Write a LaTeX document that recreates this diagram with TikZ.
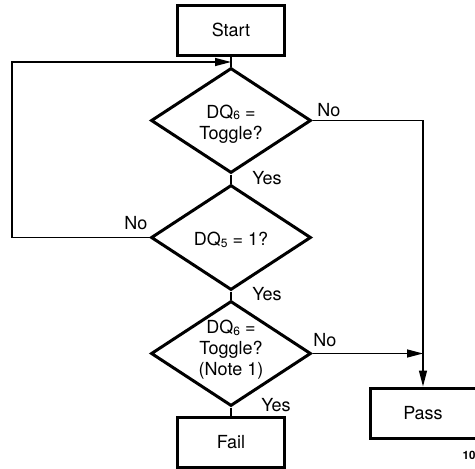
\documentclass[tikz,border=0pt]{standalone}
\usepackage{fontspec}
\setmainfont{TeX Gyre Heros}
\usetikzlibrary{shapes.geometric,arrows.meta}
\newcommand{\subdig}[1]{\raisebox{-1.5pt}{\fontsize{12}{12}\selectfont #1}}
\begin{document}
\begin{tikzpicture}[x=1pt,y=-1pt,
  every node/.style={font=\fontsize{18}{21}\selectfont},
  boxnode/.style={draw,line width=3pt,minimum width=107pt,minimum height=50pt,inner sep=0pt},
  decision/.style={draw,diamond,line width=3pt,minimum width=160pt,minimum height=105pt,inner sep=0pt,align=center},
  conn/.style={line width=1.4pt},
  arr/.style={conn,-{Triangle[length=16pt,width=8pt]}},
  lbl/.style={inner sep=0pt}]
\useasboundingbox (0,0) rectangle (475,469);
\clip (0,0) rectangle (475,469);
\node[boxnode] (start) at (231,30) {Start};
\node[decision] (d1) at (231,120.5) {};
\node[align=center] (t1) at (231,124) {DQ\subdig{6} =\\Toggle?};
\node[decision] (d2) at (231,237.5) {};
\node (t2) at (231,240) {DQ\subdig{5} = 1?};
\node[decision] (d3) at (231,353.5) {};
\node[align=center] (t3) at (231,350) {DQ\subdig{6} =\\Toggle?\\(Note 1)};
\node[boxnode] (fail) at (231,442.5) {Fail};
\node[boxnode,minimum width=106pt] (pass) at (423,413) {Pass};
\coordinate (j1) at (231,62);
\coordinate (lp) at (12,237.5);
\coordinate (j2) at (423,353.5);
\draw[conn] (start) -- (d1.north);
\draw[conn] (d1.south) -- (d2.north);
\draw[conn] (d2.south) -- (d3.north);
\draw[conn] (d3.south) -- (fail.north);
\draw[arr] (d2.west) -- (lp) |- (j1);
\draw[arr] (d1.east) -| (pass.north);
\draw[arr] (d3.east) -- (j2);
\node[lbl] (n1) at (329,110) {No};
\node[lbl] (y1) at (267,178) {Yes};
\node[lbl] (n2) at (136,223) {No};
\node[lbl] (y2) at (267,294) {Yes};
\node[lbl] (n3) at (325,340) {No};
\node[lbl] (y3) at (276,405) {Yes};
\node[lbl,anchor=base west,font=\fontsize{11.5}{12}\selectfont\bfseries] (fig) at (462.5,459) {10};
\end{tikzpicture}
\end{document}
